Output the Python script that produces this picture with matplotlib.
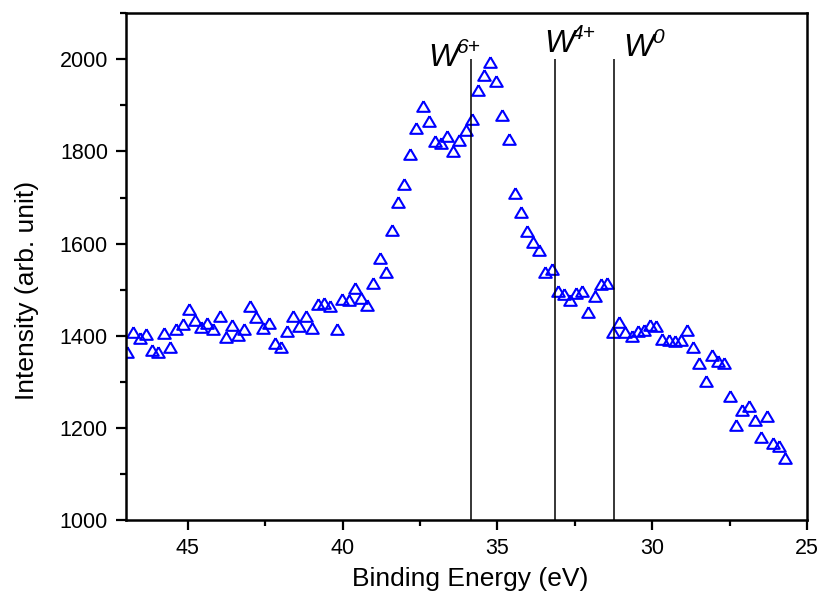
import matplotlib
matplotlib.use("Agg")
import matplotlib.pyplot as plt
from matplotlib.ticker import MultipleLocator

plt.rcParams['font.family'] = ['Liberation Sans', 'DejaVu Sans']

binding_energy = [
    46.96, 46.76, 46.56, 46.36, 46.17, 45.97, 45.77, 45.57, 45.37, 45.17,
    44.97, 44.77, 44.58, 44.38, 44.18, 43.98, 43.78, 43.58, 43.38, 43.18,
    42.99, 42.79, 42.59, 42.39, 42.19, 41.99, 41.79, 41.60, 41.40, 41.20,
    41.00, 40.80, 40.60, 40.40, 40.20, 40.01, 39.81, 39.61, 39.41, 39.21,
    39.01, 38.81, 38.61, 38.42, 38.22, 38.02, 37.82, 37.62, 37.42, 37.22,
    37.03, 36.83, 36.63, 36.43, 36.23, 36.03, 35.83, 35.63, 35.44, 35.24,
    35.04, 34.84, 34.64, 34.44, 34.24, 34.04, 33.85, 33.65, 33.45, 33.25,
    33.05, 32.85, 32.65, 32.46, 32.26, 32.06, 31.86, 31.66, 31.46, 31.26,
    31.06, 30.87, 30.67, 30.47, 30.27, 30.07, 29.87, 29.67, 29.47, 29.28,
    29.08, 28.88, 28.68, 28.48, 28.28, 28.08, 27.89, 27.69, 27.49, 27.29,
    27.09, 26.89, 26.69, 26.49, 26.30, 26.10, 25.90, 25.70,
]
intensity = [
    1364, 1409, 1395, 1404, 1370, 1365, 1407, 1375, 1415, 1425,
    1458, 1435, 1420, 1428, 1415, 1442, 1397, 1424, 1402, 1415,
    1465, 1441, 1417, 1428, 1385, 1375, 1411, 1442, 1422, 1442,
    1417, 1469, 1472, 1464, 1415, 1480, 1477, 1504, 1482, 1467,
    1515, 1569, 1538, 1630, 1691, 1730, 1795, 1850, 1898, 1867,
    1822, 1819, 1833, 1801, 1825, 1846, 1871, 1933, 1967, 1994,
    1953, 1880, 1828, 1710, 1669, 1628, 1603, 1587, 1538, 1545,
    1498, 1491, 1477, 1493, 1498, 1451, 1486, 1512, 1514, 1409,
    1429, 1408, 1400, 1411, 1413, 1424, 1422, 1393, 1391, 1389,
    1390, 1413, 1375, 1342, 1301, 1359, 1346, 1341, 1270, 1207,
    1239, 1248, 1217, 1181, 1226, 1167, 1161, 1134,
]

ref_lines = [35.85, 33.15, 31.25]
ref_base = ['W', 'W', 'W']
ref_sup = ['6+', '4+', '0']
base_pos = [(37.25, 1985), (33.49, 2015), (30.93, 2007)]
sup_pos = [(36.30, 2013), (32.60, 2045), (30.00, 2035)]

fig = plt.figure(figsize=(8.21, 6.02), dpi=100)
ax = fig.add_axes([0.1535, 0.136, 0.8295, 0.842])

tri = [(0, 0.85), (-1, -0.85), (1, -0.85), (0, 0.85)]
ax.plot(binding_energy, intensity, linestyle='none', marker=tri, markersize=9,
        markerfacecolor='none', markeredgecolor='#0000FF', markeredgewidth=1.5)

ax.vlines(ref_lines, 1000, 2000, colors='black', linewidth=1.1)
for (bx, by), b in zip(base_pos, ref_base):
    ax.text(bx, by, b, fontsize=23, style='italic', ha='left', va='baseline', color='black')
for (sx, sy), s in zip(sup_pos, ref_sup):
    ax.text(sx, sy, s, fontsize=15, style='italic', ha='left', va='baseline', color='black')

ax.set_xlim(47, 25)
ax.set_ylim(1000, 2100)
ax.xaxis.set_major_locator(MultipleLocator(5))
ax.xaxis.set_minor_locator(MultipleLocator(2.5))
ax.yaxis.set_major_locator(MultipleLocator(200))
ax.yaxis.set_minor_locator(MultipleLocator(100))
ax.tick_params(which='major', direction='out', length=7, width=1.6, labelsize=15.5, pad=6)
ax.tick_params(which='minor', direction='out', length=4, width=1.6)
ax.tick_params(top=False, right=False)
for s in ax.spines.values():
    s.set_linewidth(1.8)

ax.set_xlabel('Binding Energy (eV)', fontsize=19)
ax.set_ylabel('Intensity (arb. unit)', fontsize=19)
ax.xaxis.set_label_coords(0.505, -0.093)
ax.yaxis.set_label_coords(-0.128, 0.4536)

fig.savefig('out.png', dpi=100)
